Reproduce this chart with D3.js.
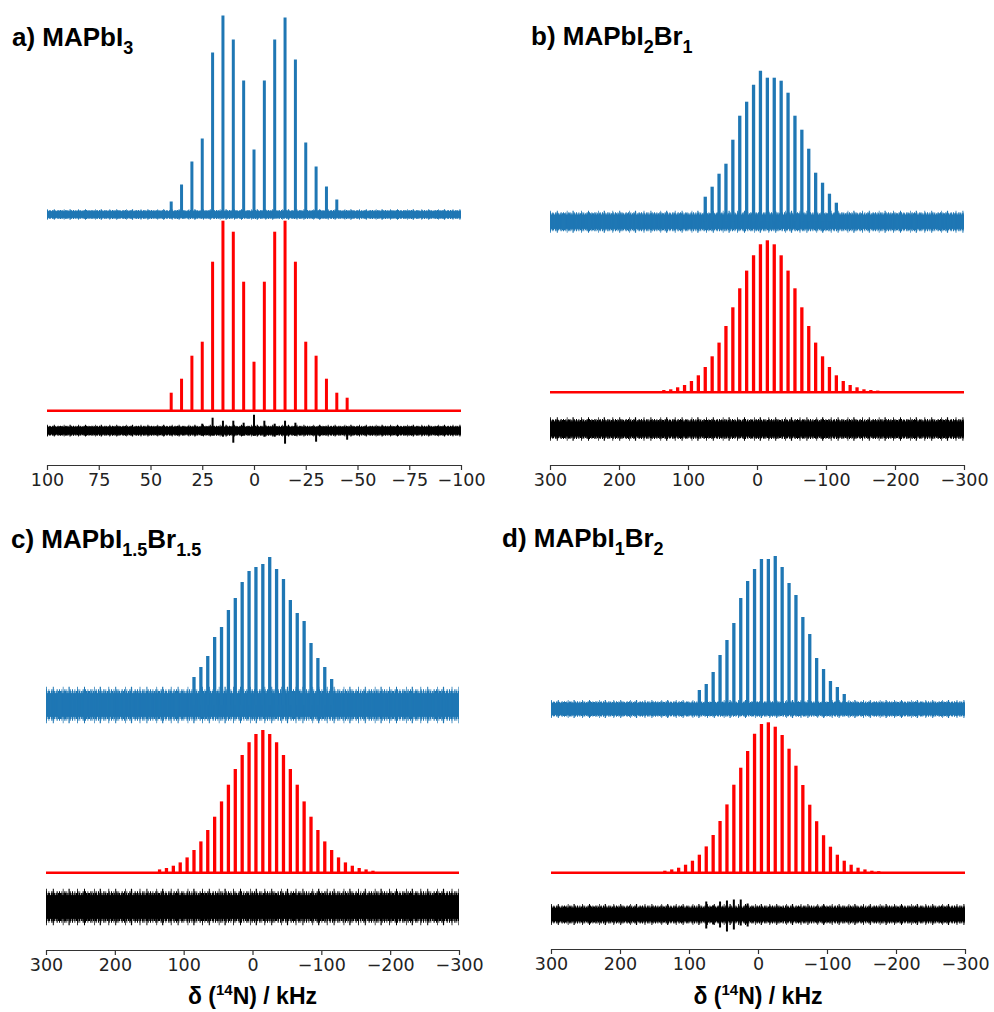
<!DOCTYPE html>
<html>
<head>
<meta charset="utf-8">
<script src="https://cdn.jsdelivr.net/npm/d3@7"></script>
<style>
  body { margin: 0; background: #fff; }
</style>
</head>
<body>
<div id="plot"></div>
<script>
// x tick values (kHz)
const ticksNarrow = [100, 75, 50, 25, 0, -25, -50, -75, -100];
const ticksWide = [300, 200, 100, 0, -100, -200, -300];

// a) MAPbI3 : experiment (blue), simulation (red), residual (black)
const expAPos = [40, 35, 30, 25, 20, 15, 10, 5, 0, -5, -10, -15, -20, -25, -30, -35, -40];
const expAInt = [13, 30, 53, 76, 162, 199, 175, 134, 65, 134, 175, 197, 155, 72, 48, 28, 15];
const simAPos = [40, 35, 30, 25, 20, 15, 10, 5, 0, -5, -10, -15, -20, -25, -30, -35, -40, -45];
const simAInt = [18, 32, 55, 69, 149, 190, 179, 129, 49, 129, 179, 190, 149, 69, 55, 32, 18, 13];
const resAPos = [25, 20, 15, 10, 5, 0, -5, -10, -15, -20, -30, -45];
const resAUp = [7, 13, 10, 10, 8, 16, 10, 7, 10, 8, 3, 3];
const resADown = [-5, -5, -6, -12, -5, -5, -6, -6, -13, -5, -11, -9];

// b) MAPbI2Br1
const expBPos = [75, 65, 55, 45, 35, 25, 15, 5, -5, -15, -25, -35, -45, -55, -65, -75, -85, -95, -105, -115];
const expBInt = [25, 35, 48, 58, 82, 106, 120, 137, 151, 144, 144, 141, 129, 106, 92, 73, 49, 39, 28, 19];
const simBPos = [135, 125, 115, 105, 95, 85, 75, 65, 55, 45, 35, 25, 15, 5, -5, -15, -25, -35, -45, -55, -65, -75, -85, -95, -105, -115, -125, -135, -145, -155, -165, -175];
const simBInt = [2.3, 3, 5, 7.3, 11.3, 17, 25.3, 36, 49.7, 66.3, 85, 104, 121.7, 137, 148, 152, 148, 137, 121.7, 104, 85, 66.3, 49.7, 36, 25.3, 17, 11.3, 7.3, 5, 3, 2.3, 1.7];

// c) MAPbI1.5Br1.5
const expCPos = [85, 75, 65, 55, 45, 35, 25, 15, 5, -5, -15, -25, -35, -45, -55, -65, -75, -85, -95, -105, -115];
const expCInt = [28, 38, 49, 68, 78, 95, 107, 123, 134, 138, 141, 148, 136, 126, 105, 92, 84, 62, 47, 38, 26];
const simCPos = [135, 125, 115, 105, 95, 85, 75, 65, 55, 45, 35, 25, 15, 5, -5, -15, -25, -35, -45, -55, -65, -75, -85, -95, -105, -115, -125, -135, -145, -155, -165, -175];
const simCInt = [3.3, 4.7, 7, 10.3, 15.3, 22.7, 31.3, 42.7, 56, 71.3, 88, 103.7, 117.7, 130.5, 138.7, 142.7, 138.7, 130.5, 117.7, 103.7, 88, 71.3, 56, 42.7, 31.3, 22.7, 15.3, 10.3, 7, 4.7, 3.3, 2];

// d) MAPbI1Br2
const expDPos = [85, 75, 65, 55, 45, 35, 25, 15, 5, -5, -15, -25, -35, -45, -55, -65, -75, -85, -95, -105, -115, -125];
const expDInt = [19, 25, 37, 54, 69, 86, 111, 128, 140, 150, 150, 153, 142, 126, 114, 92, 75, 51, 40, 28, 22, 15];
const simDPos = [135, 125, 115, 105, 95, 85, 75, 65, 55, 45, 35, 25, 15, 5, -5, -15, -25, -35, -45, -55, -65, -75, -85, -95, -105, -115, -125, -135, -145, -155, -165, -175];
const simDInt = [2, 3.3, 5, 8, 12, 18, 26.3, 37.7, 51.7, 68.3, 88, 105, 121.7, 139, 148.7, 150.4, 146, 137.7, 124, 107, 87.7, 68, 51.5, 37.5, 26, 18, 12, 8, 5, 3.3, 2, 1.5];
const resDPos = [75, 65, 55, 45, 35, 25, 15];
const resDUp = [13, 9, 13, 14, 15, 15, 11];
const resDDown = [-14, -10, -13, -17, -15, -11, -12];

// noise level (half width of the baseline band) per trace: [exp, residual]
const noiseA = [4, 4.5];
const noiseB = [8.5, 9];
const noiseC = [14, 14];
const noiseD = [7, 8];

const zip = (pos, val) => pos.map((p, i) => ({ pos: p, val: val[i] }));
const zip3 = (pos, up, down) => pos.map((p, i) => ({ pos: p, up: up[i], down: down[i] }));

const panels = [
    {
        title: [['a) MAPbI', false], ['3', true]],
        titleX: 12, titleY: 46,
        domain: [100, -100], ticks: ticksNarrow,
        x0: 47, x1: 461, axisY: 465, xlabel: false, spikeW: 3,
        exp: zip(expAPos, expAInt), sim: zip(simAPos, simAInt), res: zip3(resAPos, resAUp, resADown),
        noise: noiseA, expBase: 214.5, simBase: 410.7, resBase: 430.7
    },
    {
        title: [['b) MAPbI', false], ['2', true], ['Br', false], ['1', true]],
        titleX: 531, titleY: 45,
        domain: [300, -300], ticks: ticksWide,
        x0: 550, x1: 964, axisY: 465, xlabel: false, spikeW: 3.3,
        exp: zip(expBPos, expBInt), sim: zip(simBPos, simBInt), res: [],
        noise: noiseB, expBase: 221.7, simBase: 392.3, resBase: 429
    },
    {
        title: [['c) MAPbI', false], ['1.5', true], ['Br', false], ['1.5', true]],
        titleX: 11, titleY: 548,
        domain: [300, -300], ticks: ticksWide,
        x0: 46, x1: 459, axisY: 950, xlabel: true, spikeW: 3.3,
        exp: zip(expCPos, expCInt), sim: zip(simCPos, simCInt), res: [],
        noise: noiseC, expBase: 705, simBase: 872.7, resBase: 907
    },
    {
        title: [['d) MAPbI', false], ['1', true], ['Br', false], ['2', true]],
        titleX: 502, titleY: 547,
        domain: [300, -300], ticks: ticksWide,
        x0: 551, x1: 965, axisY: 949, xlabel: true, spikeW: 3.3,
        exp: zip(expDPos, expDInt), sim: zip(simDPos, simDInt), res: zip3(resDPos, resDUp, resDDown),
        noise: noiseD, expBase: 709, simBase: 872.7, resBase: 914.5
    }
];

const width = 994;
const height = 1012;
const blue = '#1f77b4';
const red = '#ff0000';
const titleFont = '"Liberation Sans", Arial, sans-serif';
const tickFont = '"DejaVu Sans", sans-serif';

// rough edge texture for the noise bands (style only)
const combs = [
    { k: 1.0, dash: '1.5 0.6 2 0.8 1 0.5 2.5 0.7 1.2 0.9' },
    { k: 1.12, dash: '1 1.5 0.8 2 1.2 1 0.7 2.4 1.1 1.3' },
    { k: 1.3, dash: '0.8 6 1 9 0.7 5 1.2 7.5' }
];

const svg = d3.select('#plot')
    .append('svg')
    .attr('width', width)
    .attr('height', height);

function noiseBand(g, x, domain, yc, w, color) {
    g.append('rect')
        .attr('x', x(domain[0]))
        .attr('width', x(domain[1]) - x(domain[0]))
        .attr('y', yc - 0.85 * w)
        .attr('height', 1.7 * w)
        .attr('fill', color);

    g.selectAll(null)
        .data(combs)
        .join('line')
        .attr('x1', x(domain[0]))
        .attr('x2', x(domain[1]))
        .attr('y1', yc)
        .attr('y2', yc)
        .attr('stroke', color)
        .attr('stroke-width', d => 2 * w * d.k)
        .attr('stroke-dasharray', d => d.dash);
}

panels.forEach(p => {
    const g = svg.append('g');

    const x = d3.scaleLinear()
        .domain(p.domain)
        .range([p.x0, p.x1]);

    // 1 intensity unit = 1 px, measured upward from each trace's baseline
    const yScale = base => d3.scaleLinear().domain([0, 100]).range([base, base - 100]);
    const yExp = yScale(p.expBase);
    const ySim = yScale(p.simBase);
    const yRes = yScale(p.resBase);

    // experiment
    noiseBand(g, x, p.domain, yExp(0), p.noise[0], blue);

    g.selectAll('line.exp')
        .data(p.exp)
        .join('line')
        .attr('class', 'exp')
        .attr('x1', d => x(d.pos))
        .attr('x2', d => x(d.pos))
        .attr('y1', yExp(0))
        .attr('y2', d => yExp(d.val))
        .attr('stroke', blue)
        .attr('stroke-width', p.spikeW);

    // simulation
    g.append('line')
        .attr('x1', x(p.domain[0]))
        .attr('x2', x(p.domain[1]))
        .attr('y1', ySim(0))
        .attr('y2', ySim(0))
        .attr('stroke', red)
        .attr('stroke-width', 2.4);

    g.selectAll('line.sim')
        .data(p.sim)
        .join('line')
        .attr('class', 'sim')
        .attr('x1', d => x(d.pos))
        .attr('x2', d => x(d.pos))
        .attr('y1', ySim(0))
        .attr('y2', d => ySim(d.val))
        .attr('stroke', red)
        .attr('stroke-width', p.spikeW);

    // residual
    noiseBand(g, x, p.domain, yRes(0), p.noise[1], '#000');

    g.selectAll('line.res')
        .data(p.res)
        .join('line')
        .attr('class', 'res')
        .attr('x1', d => x(d.pos))
        .attr('x2', d => x(d.pos))
        .attr('y1', d => yRes(d.down))
        .attr('y2', d => yRes(d.up))
        .attr('stroke', '#000')
        .attr('stroke-width', 2);

    // x axis
    g.append('g')
        .attr('transform', `translate(0, ${p.axisY})`)
        .call(d3.axisBottom(x)
            .tickValues(p.ticks)
            .tickFormat(d3.format('d'))
            .tickSize(5)
            .tickSizeOuter(0)
            .tickPadding(4))
        .call(a => a.select('.domain').attr('stroke', '#333').attr('stroke-width', 1.2))
        .call(a => a.selectAll('.tick line').attr('stroke', '#333').attr('stroke-width', 1.2))
        .call(a => a.selectAll('.tick text')
            .attr('font-family', tickFont)
            .attr('font-size', 17.5)
            .attr('fill', '#222'));

    // panel title with subscripts
    const title = g.append('text')
        .attr('x', p.titleX)
        .attr('y', p.titleY)
        .attr('font-family', titleFont)
        .attr('font-weight', 'bold')
        .attr('font-size', 26)
        .attr('fill', '#000');

    let shifted = false;
    p.title.forEach(([txt, sub]) => {
        const dy = sub && !shifted ? 8 : (!sub && shifted ? -8 : 0);
        shifted = sub;
        title.append('tspan')
            .attr('dy', dy)
            .attr('font-size', sub ? 18 : 26)
            .text(txt);
    });

    if (p.xlabel) {
        const lab = g.append('text')
            .attr('x', (p.x0 + p.x1) / 2)
            .attr('y', 1004)
            .attr('text-anchor', 'middle')
            .attr('font-family', titleFont)
            .attr('font-weight', 'bold')
            .attr('font-size', 23)
            .attr('fill', '#000');
        lab.append('tspan').text('δ (');
        lab.append('tspan').attr('dy', -9).attr('font-size', 15).text('14');
        lab.append('tspan').attr('dy', 9).text('N) / kHz');
    }
});
</script>
</body>
</html>
